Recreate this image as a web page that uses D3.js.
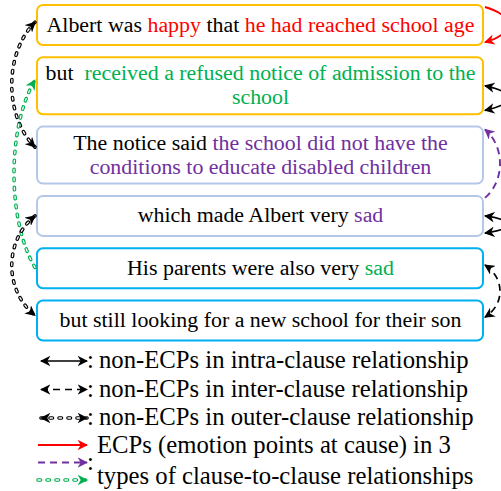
<!DOCTYPE html>
<html lang="en">
<head>
<meta charset="UTF-8"/>
<title>Emotion-cause pairs across clauses</title>
<script src="https://d3js.org/d3.v7.min.js"></script>
<style>
  body { margin: 0; background: #fff; }
  svg { display: block; }
  text { font-family: 'Liberation Serif', 'Times New Roman', serif; white-space: pre; }
  .clause { font-size: 21.9px; }
  .legend { font-size: 24.7px; fill: #000; }
</style>
</head>
<body>
<svg id="chart" width="501" height="491"></svg>
<script>
// clause text, one entry per box, split in lines and coloured runs ("" = plain, r/g/p = ECP group)
const clauseLines = [
  [[["Albert was ", ""], ["happy", "r"], [" that ", ""], ["he had reached school age", "r"]]],
  [[["but  ", ""], ["received a refused notice of admission to the", "g"]], [["school", "g"]]],
  [[["The notice said ", ""], ["the school did not have the", "p"]], [["conditions to educate disabled children", "p"]]],
  [[["which made Albert very ", ""], ["sad", "p"]]],
  [[["His parents were also very ", ""], ["sad", "g"]]],
  [[["but still looking for a new school for their son", ""]]]
];
const boxGroup = ["a", "a", "b", "b", "c", "c"];

// links between clauses
const linkSource   = [0, 1, 3, 3, 4, 0, 4, 3];
const linkSourceAt = [0.05, 0.5, 0.05, 0.5, 0.42, 0.43, 0.48, 0.5];
const linkTarget   = [0, 1, 2, 3, 5, 2, 1, 5];
const linkTargetAt = [0.93, 0.93, 0.05, 0.93, 0.42, 0.36, 0.4, 0.37];
const linkSide     = ["R", "R", "R", "R", "R", "L", "L", "L"];
const linkKind     = ["ecpR", "intra", "ecpP", "intra", "inter", "outer", "ecpG", "outer"];

// legend
const legendKinds = ["intra", "inter", "outer", "ecpR", "ecpP", "ecpG"];
const legendColon = [true, true, true, false, true, false];
const legendText  = [
  "non-ECPs in intra-clause relationship",
  "non-ECPs in inter-clause relationship",
  "non-ECPs in outer-clause relationship",
  "ECPs (emotion points at cause) in 3",
  "",
  "types of clause-to-clause relationships"
];

const svg = d3.select("#chart");

const textColor = d3.scaleOrdinal().domain(["", "r", "g", "p"])
  .range(["#000000", "#FF0000", "#00B050", "#7030A0"]);
const boxColor = d3.scaleOrdinal().domain(["a", "b", "c"])
  .range(["#FFC000", "#B4C7E7", "#00B0F0"]);

const styles = {
  intra: { color: "#000000", dash: null, dots: false, both: true, w: 1.7 },
  inter: { color: "#000000", dash: "7 5", dots: false, both: true, w: 1.7 },
  outer: { color: "#000000", dash: null, dots: true, both: true, w: 1.7 },
  ecpR:  { color: "#FF0000", dash: null, dots: false, both: false, w: 1.9 },
  ecpP:  { color: "#7030A0", dash: "7 5", dots: false, both: false, w: 1.9 },
  ecpG:  { color: "#00B050", dash: null, dots: true, both: false, w: 1.9 }
};

// markers, one per colour
const defs = svg.append("defs");
const markerId = c => "m" + c.slice(1);
[...new Set(Object.values(styles).map(s => s.color))].forEach(c => {
  defs.append("marker")
    .attr("id", markerId(c))
    .attr("viewBox", "0 0 10 10")
    .attr("refX", 9).attr("refY", 5)
    .attr("markerWidth", 10.5).attr("markerHeight", 10.5)
    .attr("markerUnits", "userSpaceOnUse")
    .attr("orient", "auto-start-reverse")
    .append("path")
    .attr("d", "M0,0 L10,5 L0,10 L3,5 Z")
    .attr("fill", c);
});

// box layout
const boxLeft = 37, boxRight = 483, lineGap = 24;
const boxes = [];
let boxTop = 5;
clauseLines.forEach((lines, i) => {
  const h = lines.length === 1 ? 40 : 57;
  boxes.push({ i, top: boxTop, h, lines });
  boxTop += h + 12.3;
});

svg.append("g").selectAll("rect")
  .data(boxes)
  .join("rect")
  .attr("x", boxLeft).attr("y", d => d.top)
  .attr("width", boxRight - boxLeft).attr("height", d => d.h)
  .attr("rx", 6)
  .attr("fill", "#fff")
  .attr("stroke", d => boxColor(boxGroup[d.i]))
  .attr("stroke-width", 2);

const cx = (boxLeft + boxRight) / 2 + 0.5;
boxes.forEach(b => {
  const cy = b.top + b.h / 2;
  b.lines.forEach((runs, li) => {
    const t = svg.append("text")
      .attr("class", "clause")
      .attr("x", cx)
      .attr("y", cy + 6.5 + (li - (b.lines.length - 1) / 2) * lineGap)
      .attr("text-anchor", "middle");
    runs.forEach(r => t.append("tspan").attr("fill", textColor(r[1])).text(r[0]));
  });
});

function drawLink(g, d, kind) {
  const s = styles[kind];
  if (s.dots) {
    g.append("path").attr("d", d).attr("fill", "none")
      .attr("stroke", s.color).attr("stroke-width", 3.6)
      .attr("stroke-dasharray", "2.5 6.5").attr("stroke-linecap", "round");
    g.append("path").attr("d", d).attr("fill", "none")
      .attr("stroke", "#fff").attr("stroke-width", 1.3)
      .attr("stroke-dasharray", "2.5 6.5").attr("stroke-linecap", "round");
  } else {
    g.append("path").attr("d", d).attr("fill", "none")
      .attr("stroke", s.color).attr("stroke-width", s.w)
      .attr("stroke-dasharray", s.dash);
  }
  g.append("path").attr("d", d).attr("fill", "none").attr("stroke", "none")
    .attr("marker-end", `url(#${markerId(s.color)})`)
    .attr("marker-start", s.both ? `url(#${markerId(s.color)})` : null);
}

// arcs between clauses
const linkG = svg.append("g");
linkSource.forEach((src, i) => {
  const a = boxes[src], b = boxes[linkTarget[i]];
  const side = linkSide[i] === "R" ? 1 : -1;
  const x = side > 0 ? boxRight + 2 : boxLeft - 2;
  const y0 = a.top + a.h * linkSourceAt[i];
  const y1 = b.top + b.h * linkTargetAt[i];
  const same = src === linkTarget[i];
  const k = same ? 30 : side > 0 ? 20 : (linkKind[i] === "ecpG" ? 28 : 31);
  const t = 0.25 * (y1 - y0);
  const p = d3.path();
  p.moveTo(x, y0);
  p.bezierCurveTo(x + side * k, y0 + t, x + side * k, y1 - t, x, y1);
  drawLink(linkG, p.toString(), linkKind[i]);
});

// legend
const legendG = svg.append("g");
legendKinds.forEach((kind, i) => {
  const y = i < 3 ? 361 + i * 28.5 : 445 + (i - 3) * 17.5;
  const x0 = i < 3 ? 41 : 38;
  const line = d3.line()([[x0, y], [87, y]]);
  drawLink(legendG, line, kind);
  if (legendColon[i]) {
    legendG.append("text").attr("class", "legend")
      .attr("x", 87).attr("y", y + 7).text(":");
  }
  if (legendText[i]) {
    const base = i < 3 ? y + 7 : (i === 3 ? y + 8 : y + 4);
    legendG.append("text").attr("class", "legend")
      .attr("x", i < 3 ? 99 : 97).attr("y", base).text(legendText[i]);
  }
});
</script>
</body>
</html>
